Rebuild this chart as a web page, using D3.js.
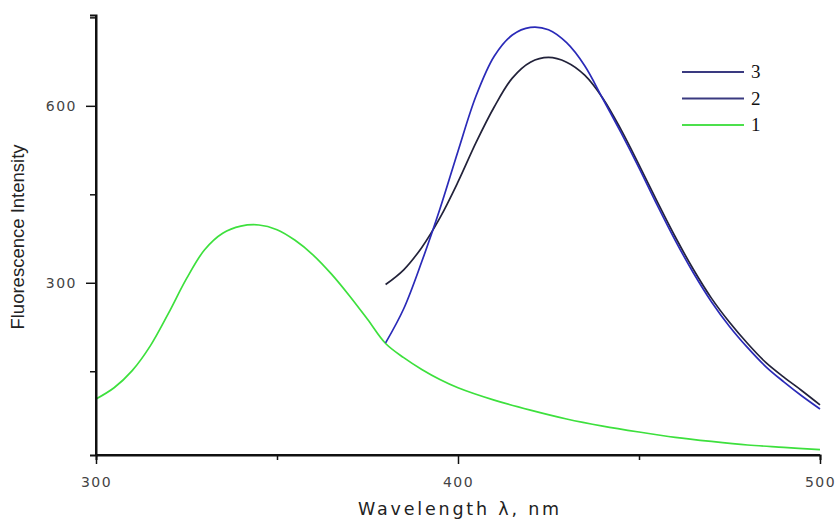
<!DOCTYPE html>
<html>
<head>
	<meta charset="utf-8">
	<title></title>
	<script src="https://d3js.org/d3.v7.min.js" charset="utf-8"></script>
	<style type="text/css">
		body {
			margin: 0;
			background: #fff;
		}

		svg text.tick-label {
			font-family: 'DejaVu Sans', sans-serif;
			font-size: 14px;
			letter-spacing: 1.5px;
			fill: #444;
		}

		svg text.legend-label {
			font-family: 'Liberation Serif', serif;
			font-size: 19px;
			fill: #111;
		}
	</style>
</head>
<body>

	<script type="text/javascript">
		var w = 835;
		var h = 524;

		// series 1 (green)
		var wl1 = [300, 305, 310, 315, 320, 325, 330, 335, 340, 345, 350, 355, 360, 365, 370, 375, 380,
		           385, 390, 395, 400, 410, 420, 430, 440, 450, 460, 470, 480, 490, 500];
		var val1 = [103, 122, 151, 193, 248, 307, 356, 384, 396, 398, 390, 372, 347, 315, 278, 238, 197,
		            173, 153, 136, 122, 101, 84, 69, 57, 47, 38, 31, 25, 21, 17];

		// series 2 (blue)
		var wl2 = [380, 385, 390, 395, 400, 405, 410, 415, 420, 425, 430, 435, 440, 445, 450,
		           455, 460, 465, 470, 475, 480, 485, 490, 495, 500];
		var val2 = [198, 256, 336, 425, 523, 617, 684, 720, 733, 729, 707, 668, 612, 555, 495,
		            432, 372, 317, 268, 226, 190, 158, 132, 108, 86];

		// series 3 (dark)
		var wl3 = [380, 385, 390, 395, 400, 405, 410, 415, 420, 425, 430, 435, 440, 445, 450,
		           455, 460, 465, 470, 475, 480, 485, 490, 495, 500];
		var val3 = [297, 322, 360, 410, 471, 538, 598, 647, 674, 682, 674, 652, 613, 560, 500,
		            438, 378, 323, 274, 233, 197, 165, 140, 117, 93];

		var xTicks = [300, 400, 500];
		var xMinor = [350, 450];
		var yTicks = [300, 600];
		var yMinor = [150, 450, 750];

		var legendNames = ['3', '2', '1'];
		var colors = {'1': '#3de03d', '2': '#2a2ab8', '3': '#22223a'};
		var legendColors = {'1': '#4ce04c', '2': '#3a3a80', '3': '#3a3a80'};

		var x = d3.scaleLinear().domain([300, 500]).range([96, 820]);
		var y = d3.scaleLinear().domain([8, 754]).range([455, 15]);

		var svg = d3.select('body')
			.append('svg')
			.attr('width', w)
			.attr('height', h);

		var line = d3.line()
			.x(function (d) { return x(d[0]); })
			.y(function (d) { return y(d[1]); })
			.curve(d3.curveCatmullRom);

		var series = [
			{name: '1', pts: d3.zip(wl1, val1)},
			{name: '3', pts: d3.zip(wl3, val3)},
			{name: '2', pts: d3.zip(wl2, val2)}
		];

		svg.append('g')
			.selectAll('path')
			.data(series)
			.enter()
			.append('path')
			.attr('d', function (d) { return line(d.pts); })
			.attr('fill', 'none')
			.attr('stroke', function (d) { return colors[d.name]; })
			.attr('stroke-width', 1.7);

		// axes
		var xAxis = svg.append('g')
			.attr('transform', 'translate(0,' + y(8) + ')')
			.call(d3.axisBottom(x).tickValues(xTicks).tickSize(9).tickFormat(d3.format('d')));
		xAxis.append('g')
			.call(d3.axisBottom(x).tickValues(xMinor).tickSize(5).tickFormat(''));

		var yAxis = svg.append('g')
			.attr('transform', 'translate(' + x(300) + ',0)')
			.call(d3.axisLeft(y).tickValues(yTicks).tickSize(10).tickPadding(9).tickFormat(d3.format('d')));
		yAxis.append('g')
			.call(d3.axisLeft(y).tickValues(yMinor).tickSize(6).tickFormat(''));

		svg.selectAll('.domain')
			.attr('stroke', '#111')
			.attr('stroke-width', 2);
		svg.selectAll('.tick line')
			.attr('stroke', '#111')
			.attr('stroke-width', 1.5);
		svg.selectAll('.tick text')
			.attr('class', 'tick-label')
			.attr('font-family', null)
			.attr('font-size', null);
		xAxis.selectAll('.tick text').attr('dy', '1.45em');
		// no end caps on the domain lines
		xAxis.select('.domain').attr('d', 'M' + x(300) + ',0H' + x(500));
		yAxis.select('.domain').attr('d', 'M0,' + y(8) + 'V' + y(754));

		// axis titles
		svg.append('text')
			.text('Wavelength \u03bb, nm')
			.attr('x', 460)
			.attr('y', 515)
			.attr('text-anchor', 'middle')
			.style('font-family', "'DejaVu Sans', sans-serif")
			.style('font-size', '17.5px')
			.style('letter-spacing', '2.8px')
			.style('fill', '#222');

		svg.append('text')
			.text('Fluorescence Intensity')
			.attr('transform', 'translate(24,237) rotate(-90)')
			.attr('text-anchor', 'middle')
			.style('font-family', "'Liberation Sans', Arial, sans-serif")
			.style('font-size', '18.5px')
			.style('fill', '#222');

		// legend
		var legend = svg.append('g')
			.selectAll('g')
			.data(legendNames)
			.enter()
			.append('g')
			.attr('transform', function (d, i) { return 'translate(682,' + (72 + i * 26.5) + ')'; });

		legend.append('line')
			.attr('x1', 0)
			.attr('x2', 62)
			.attr('stroke', function (d) { return legendColors[d]; })
			.attr('stroke-width', 2);

		legend.append('text')
			.attr('class', 'legend-label')
			.text(function (d) { return d; })
			.attr('x', 69)
			.attr('y', 6);
	</script>
</body>
</html>
